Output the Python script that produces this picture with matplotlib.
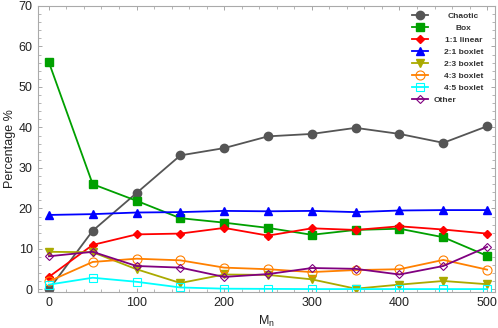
import matplotlib
matplotlib.use("Agg")
import matplotlib.pyplot as plt
from matplotlib.ticker import MultipleLocator

plt.rcParams['font.family'] = ['Liberation Sans', 'DejaVu Sans']

mn = [0, 50, 100, 150, 200, 250, 300, 350, 400, 450, 500]
chaotic = [0.0, 14.5, 23.8, 33.1, 34.9, 37.8, 38.4, 39.9, 38.4, 36.2, 40.3]
box = [56.1, 26.0, 21.9, 17.6, 16.5, 15.2, 13.5, 14.7, 15.0, 12.9, 8.3]
linear11 = [3.1, 11.0, 13.6, 13.8, 15.2, 13.3, 15.1, 14.7, 15.6, 14.8, 13.8]
boxlet21 = [18.4, 18.6, 19.0, 19.1, 19.4, 19.3, 19.4, 19.1, 19.5, 19.6, 19.6]
boxlet23 = [9.3, 9.2, 5.0, 1.6, 3.7, 3.6, 2.5, 0.2, 1.2, 2.1, 1.3]
boxlet43 = [2.0, 6.8, 7.6, 7.2, 5.4, 5.0, 4.3, 4.8, 5.0, 7.3, 4.9]
boxlet45 = [1.2, 2.9, 1.9, 0.5, 0.2, 0.15, 0.1, 0.1, 0.1, 0.1, 0.1]
other = [8.2, 9.3, 5.8, 5.4, 3.1, 3.8, 5.3, 5.1, 3.7, 5.8, 10.5]

labels = ['Chaotic', 'Box', '1:1 linear', '2:1 boxlet', '2:3 boxlet',
          '4:3 boxlet', '4:5 boxlet', 'Other']

series = [
    (chaotic, dict(color='#555555', marker='o', ms=6, mfc='#555555')),
    (box, dict(color='#00a000', marker='s', ms=5.5, mfc='#00a000')),
    (linear11, dict(color='#ff0000', marker='D', ms=4.5, mfc='#ff0000')),
    (boxlet21, dict(color='#0000ff', marker='^', ms=5.5, mfc='#0000ff')),
    (boxlet23, dict(color='#aaaa00', marker='v', ms=5.5, mfc='#aaaa00')),
    (boxlet43, dict(color='#ff8000', marker='o', ms=6.5, mfc='none')),
    (boxlet45, dict(color='#00ffff', marker='s', ms=6, mfc='none')),
    (other, dict(color='#800080', marker='D', ms=4.5, mfc='none')),
]

fig = plt.figure(figsize=(4.98, 3.28), dpi=100)
ax = fig.add_axes([0.077, 0.110, 0.917, 0.872])

for (vals, st), lab in zip(series, labels):
    mfc = st.pop('mfc')
    if mfc == 'none':
        ax.plot(mn, vals, lw=1.3, mfc='none', mew=0.8, label=lab, **st)
    else:
        ax.plot(mn, vals, lw=1.3, mfc=mfc, mec=st['color'], label=lab, **st)

ax.set_xlim(-12, 509)
ax.set_ylim(-0.6, 70)
ax.xaxis.set_major_locator(MultipleLocator(100))
ax.xaxis.set_minor_locator(MultipleLocator(20))
ax.yaxis.set_major_locator(MultipleLocator(10))
ax.yaxis.set_minor_locator(MultipleLocator(2))
ax.tick_params(which='both', direction='in', top=True, right=True,
               color='#999999', labelsize=9, labelcolor='#222222')
ax.tick_params(which='major', length=3, width=0.6, pad=4)
ax.tick_params(which='minor', length=2, width=0.5)
for s in ax.spines.values():
    s.set_color('#aaaaaa')
    s.set_linewidth(0.8)

ax.set_xlabel('M$_\\mathregular{n}$', fontsize=9, labelpad=3, color='#222222')
ax.set_ylabel('Percentage %', fontsize=9, labelpad=2, color='#222222')

leg = ax.legend(loc='upper right', bbox_to_anchor=(0.962, 0.995), frameon=False,
                prop={'size': 6, 'weight': 'bold'}, handlelength=1.9,
                handletextpad=0.6, labelspacing=0.5, borderaxespad=0.2)
for t in leg.get_texts():
    t.set_color('#333333')

fig.canvas.draw()
center = 463.5
for t in leg.get_texts()[:-1]:
    bb = t.get_window_extent()
    dx = center - (bb.x0 + bb.x1) / 2
    t.set_position((dx, 0))

fig.savefig('out.png', dpi=100)
